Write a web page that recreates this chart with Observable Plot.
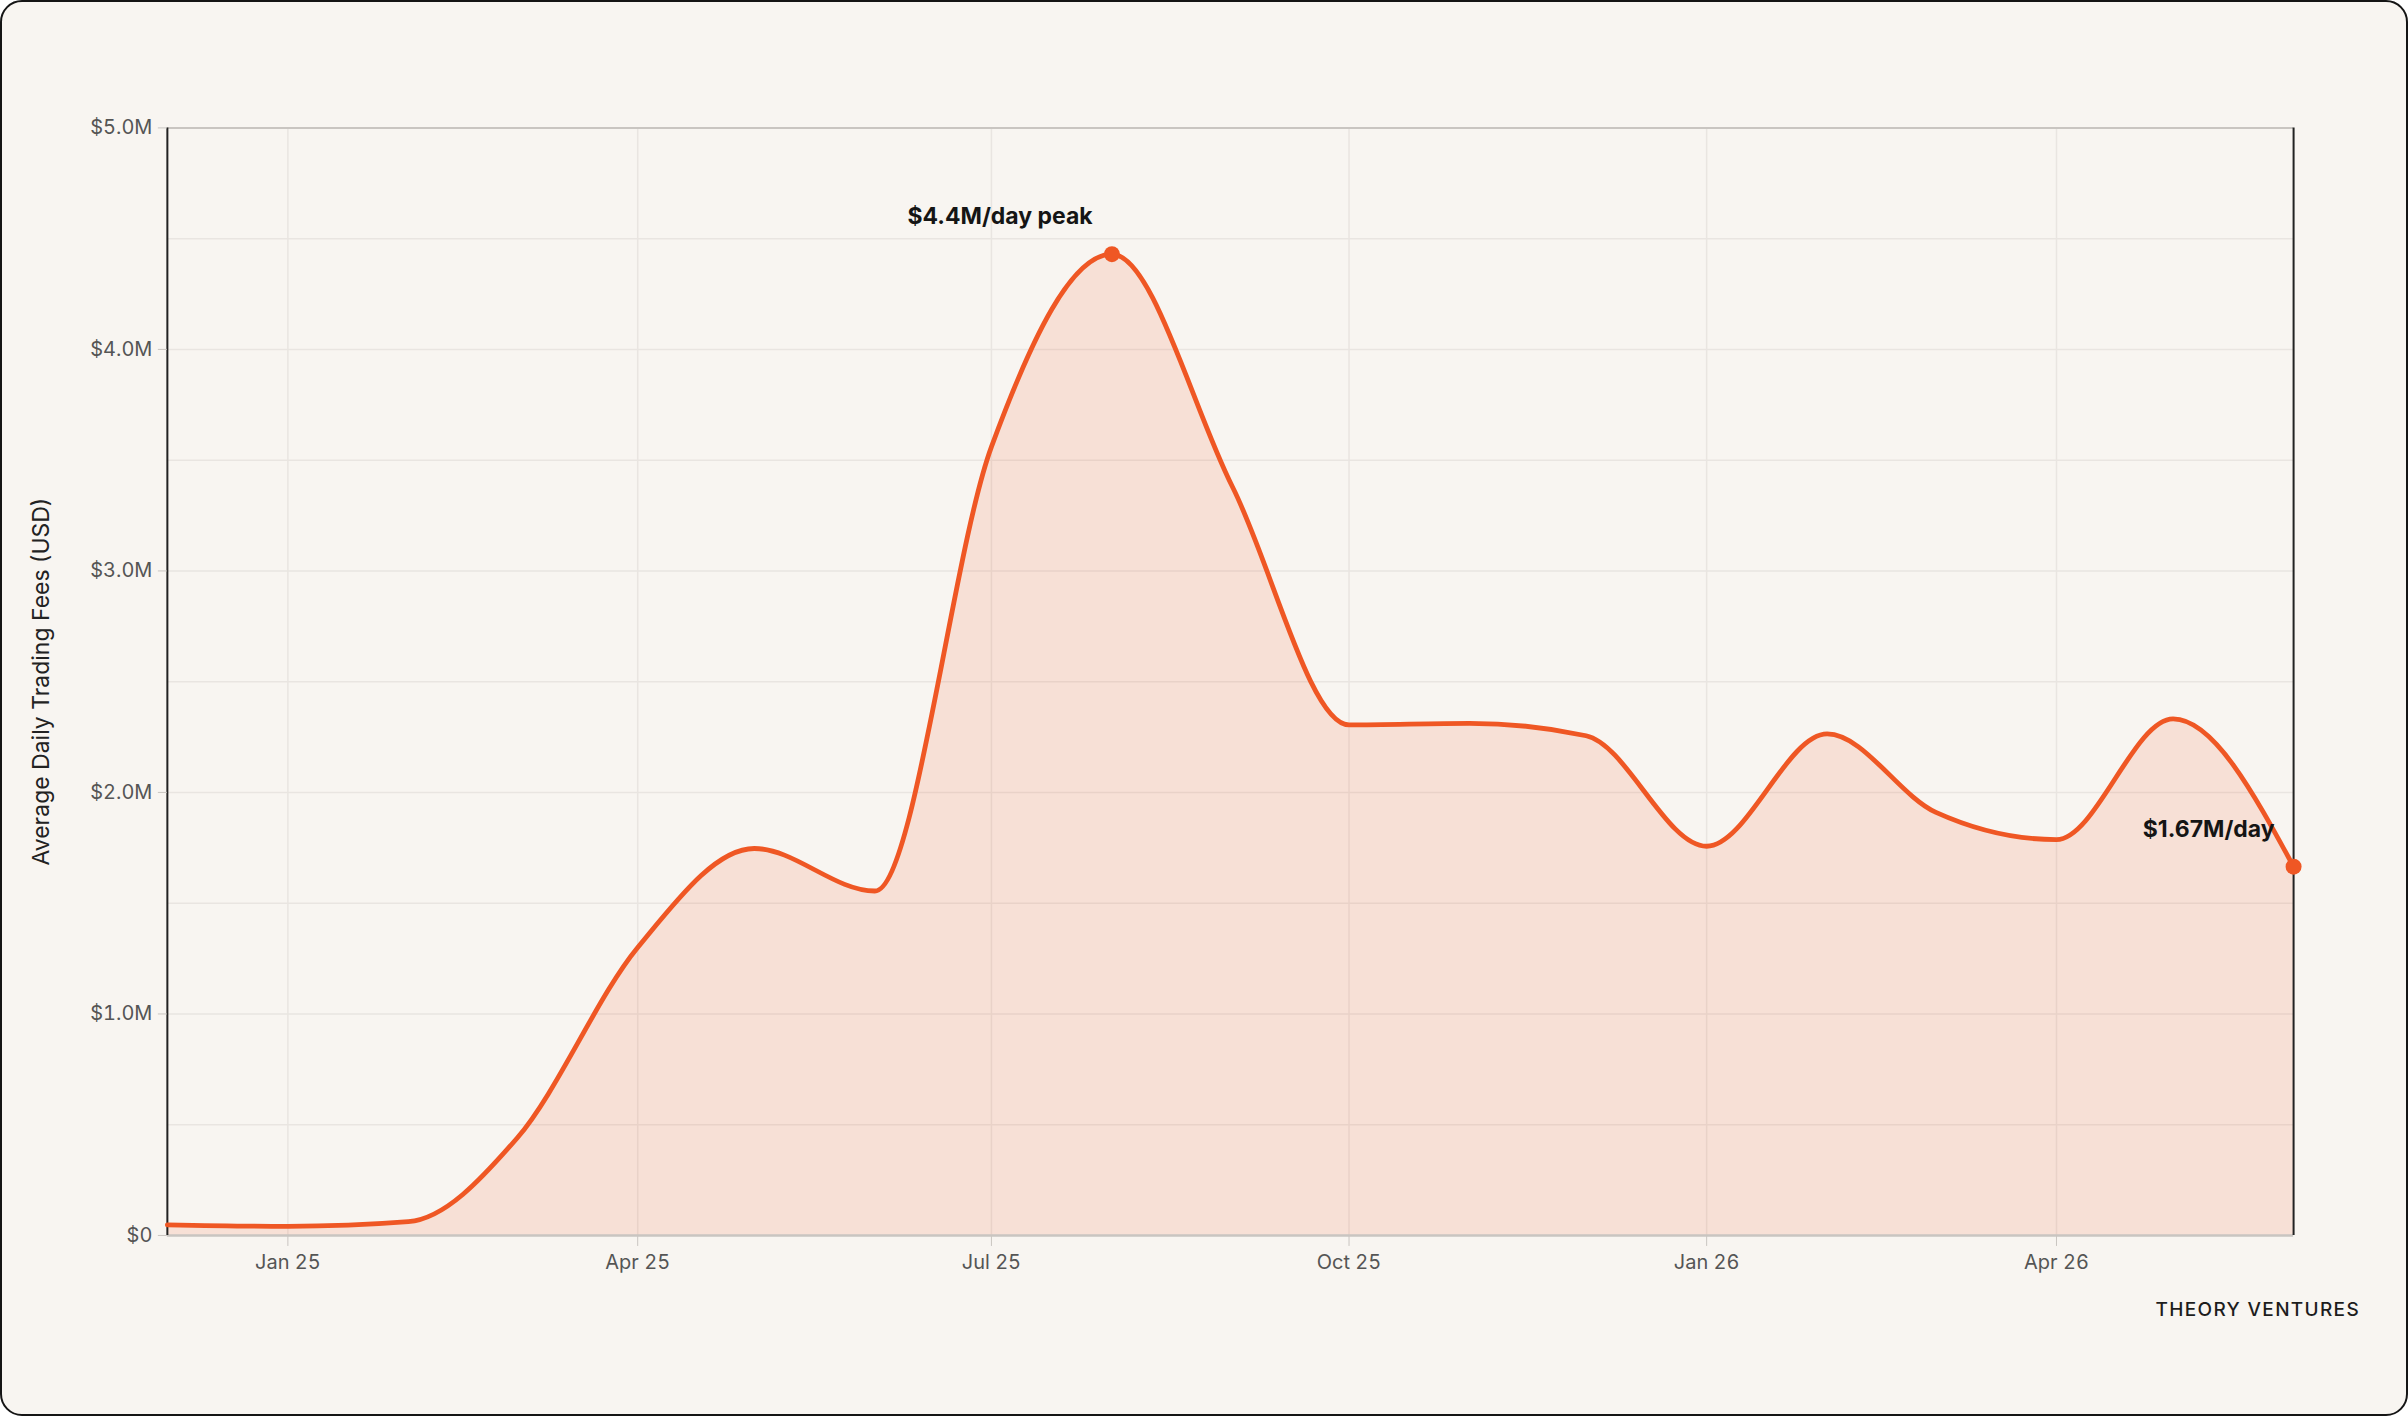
<!DOCTYPE html>
<html>
<head>
<meta charset="utf-8">
<script src="https://cdn.jsdelivr.net/npm/d3@7"></script>
<script src="https://cdn.jsdelivr.net/npm/@observablehq/plot@0.6"></script>
<style>
  html, body { margin: 0; padding: 0; background: #ffffff; }
  #card {
    position: relative;
    width: 2408px; height: 1416px;
    box-sizing: border-box;
    border: 2px solid #151515;
    border-radius: 22px;
    background: #f8f5f1;
    overflow: hidden;
    font-family: Inter, "Noto Sans", sans-serif;
  }
  #chart { position: absolute; left: -2px; top: -2px; }
  #caption {
    position: absolute;
    right: 46px; top: 1296px;
    font-family: Inter, "Noto Sans", sans-serif;
    font-size: 19px; letter-spacing: 0.07em;
    color: #1d1d1d; font-weight: 500;
  }
</style>
</head>
<body>
<div id="card">
  <div id="chart"></div>
  <div id="caption">THEORY VENTURES</div>
</div>
<script>
// Monthly average daily trading fees (USD, millions)
const months = [
  "2024-12-01","2025-01-01","2025-02-01","2025-03-01","2025-04-01","2025-05-01",
  "2025-06-01","2025-07-01","2025-08-01","2025-09-01","2025-10-01","2025-11-01",
  "2025-12-01","2026-01-01","2026-02-01","2026-03-01","2026-04-01","2026-05-01",
  "2026-06-01"
];
const feesMillions = [
  0.048, 0.041, 0.062, 0.44, 1.30, 1.747,
  1.555, 3.56, 4.43, 3.38, 2.305, 2.312,
  2.256, 1.757, 2.264, 1.91, 1.787, 2.332,
  1.665
];
const xTickDates = ["2025-01-01","2025-04-01","2025-07-01","2025-10-01","2026-01-01","2026-04-01"];
const yTickValues = [0, 1e6, 2e6, 3e6, 4e6, 5e6];
const yGridValues = [0.5e6, 1e6, 1.5e6, 2e6, 2.5e6, 3e6, 3.5e6, 4e6, 4.5e6];
const annotations = [
  {month: "2025-08-01", label: "$4.4M/day peak"},
  {month: "2026-06-01", label: "$1.67M/day"}
];
const yLabel = "Average Daily Trading Fees (USD)";

const orange = "#ef5724";
const data = months.map((m, i) => ({date: new Date(m), fees: feesMillions[i] * 1e6}));
const byMonth = new Map(data.map(d => [d.date.getTime(), d]));
const notes = annotations.map(a => ({...byMonth.get(new Date(a.month).getTime()), label: a.label}));
const xDomain = [data[0].date, data[data.length - 1].date];
const xTicks = xTickDates.map(d => new Date(d));

const fmtY = v => v === 0 ? "$0" : "$" + (v / 1e6).toFixed(1) + "M";

const chart = Plot.plot({
  width: 2408,
  height: 1290,
  marginLeft: 167,
  marginRight: 113,
  marginTop: 127.5,
  marginBottom: 54,
  style: {background: "transparent", fontFamily: "Inter, 'Noto Sans', sans-serif", fontSize: "20px", color: "#555"},
  x: {type: "utc", domain: xDomain},
  y: {domain: [0, 5e6]},
  marks: [
    Plot.gridY(yGridValues, {stroke: "#e9e5e1", strokeOpacity: 1, strokeWidth: 1.5}),
    Plot.gridX(xTicks, {stroke: "#e9e5e1", strokeOpacity: 1, strokeWidth: 1.5}),
    Plot.areaY(data, {x: "date", y: "fees", curve: "monotone-x", fill: orange, fillOpacity: 0.13}),
    Plot.ruleY([5e6], {stroke: "#c9c5c1", strokeWidth: 2}),
    Plot.ruleY([0], {stroke: "#c9c5c1", strokeWidth: 2.5}),
    Plot.ruleX(xDomain, {stroke: "#222", strokeWidth: 2}),
    Plot.lineY(data, {x: "date", y: "fees", curve: "monotone-x", stroke: orange, strokeWidth: 4.8}),
    Plot.dot(notes, {x: "date", y: "fees", r: 8, fill: orange, stroke: "none"}),
    Plot.text(notes.slice(0, 1), {x: "date", y: "fees", text: "label", dx: -112, dy: -38,
      fontSize: 23, fontWeight: 700, fill: "#151515"}),
    Plot.text(notes.slice(1), {x: "date", y: "fees", text: "label", textAnchor: "end", dx: -19, dy: -37,
      fontSize: 23, fontWeight: 700, fill: "#151515"}),
    Plot.axisY({ticks: yTickValues, tickFormat: fmtY, tickSize: 9, tickPadding: 6,
      stroke: "#c9c5c1", fill: "#555", label: null, fontSize: 20}),
    Plot.axisX({ticks: xTicks, tickFormat: d3.utcFormat("%b %y"), tickSize: 11, tickPadding: 8,
      stroke: "#c9c5c1", fill: "#555", label: null, fontSize: 20}),
    Plot.text([yLabel], {frameAnchor: "left", textAnchor: "middle", text: d => d, rotate: -90, dx: -125.5,
      fontSize: 23, fill: "#222"})
  ]
});
document.getElementById("chart").appendChild(chart);
</script>
</body>
</html>
